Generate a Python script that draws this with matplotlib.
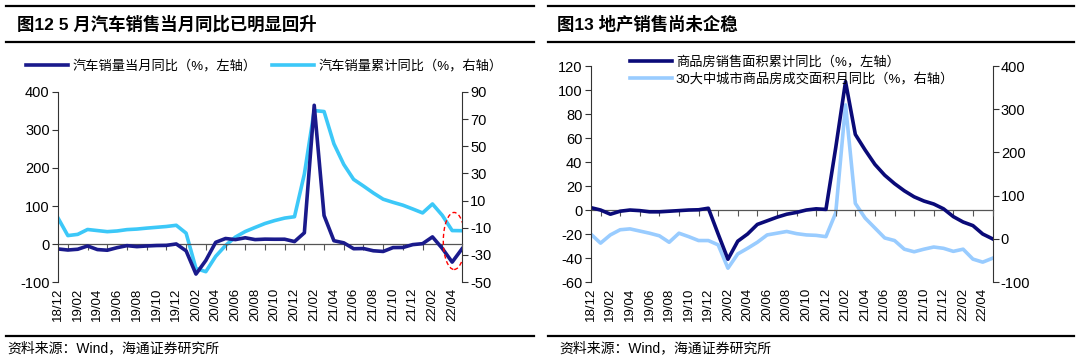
import numpy as np
import matplotlib
matplotlib.use("Agg")
import matplotlib.pyplot as plt
from matplotlib.patches import Ellipse

plt.rcParams['font.family'] = ['Liberation Sans', 'Noto Sans CJK SC']
plt.rcParams['axes.unicode_minus'] = False

# months 2018/12 .. 2022/05
n_months = 42
tick_labels = ['18/12', '19/02', '19/04', '19/06', '19/08', '19/10', '19/12',
               '20/02', '20/04', '20/06', '20/08', '20/10', '20/12',
               '21/02', '21/04', '21/06', '21/08', '21/10', '21/12',
               '22/02', '22/04']

# 汽车销量当月同比 (左轴)
car_month = [-13.0, -15.8, -13.8, -5.2, -14.6, -16.4, -9.6, -4.3, -6.9, -5.2, -4.0,
             -3.6, 0.1, -18.0, -79.1, -43.3, 4.4, 14.5, 11.6, 16.4, 11.6, 12.8,
             12.5, 12.6, 6.4, 29.5, 365.0, 74.9, 8.6, 3.1, -12.4, -11.9, -17.8,
             -19.6, -9.4, -9.1, -1.6, 0.9, 18.7, -11.7, -47.6, -12.6]
# 汽车销量累计同比 (右轴)
car_cum = [-2.8, -15.8, -14.9, -11.3, -12.1, -12.9, -12.4, -11.4, -11.0, -10.3, -9.7,
           -9.1, -8.2, -14.0, -40.0, -42.4, -31.1, -23.1, -16.9, -12.8, -9.8, -6.9,
           -4.7, -2.9, -1.9, 29.5, 76.3, 75.6, 51.8, 36.6, 25.6, 20.7, 15.6, 11.0,
           8.7, 6.6, 3.8, 0.9, 7.5, -0.9, -12.1, -12.2]

# 商品房销售面积累计同比 (左轴)
estate_cum = [2.0, 0.0, -3.5, -1.0, 0.0, -0.5, -1.5, -1.5, -1.0, -0.5, 0.0, 0.2, 1.5,
              -20.0, -41.0, -26.0, -20.0, -12.0, -9.0, -6.0, -3.5, -2.0, 0.0, 1.0,
              0.5, 52.0, 107.0, 63.0, 50.0, 38.0, 29.0, 22.0, 16.0, 11.0, 7.5, 5.0,
              1.0, -5.5, -10.0, -13.0, -20.0, -24.0]
# 30大中城市商品房成交面积月同比 (右轴)
city30 = [11, -10, 9, 21, 23, 18, 13, 7, -8, 13, 5, -4, -4, -14, -68, -35, -22, -8,
          9, 13, 17, 12, 9, 8, 5, 60, 310, 82, 48, 25, 2, -4, -24, -30, -24, -19,
          -22, -29, -24, -47, -54, -45]

x = np.arange(n_months)
tick_pos = np.arange(0, n_months, 2)

fig = plt.figure(figsize=(10.8, 3.63), dpi=100)

navy_l = '#1a1a8c'
cyan = '#3cc8f8'
navy_r = '#0a0a78'
pale = '#99ccff'


def style_axes(ax, ax2, zero_frac):
    for a in (ax, ax2):
        a.spines['top'].set_visible(False)
        a.spines['bottom'].set_visible(False)
        a.spines['left'].set_color('#333333')
        a.spines['right'].set_color('#333333')
        a.tick_params(axis='y', labelsize=10.5, length=4, color='#333333', pad=2)
    ax.spines['right'].set_visible(False)
    ax2.spines['left'].set_visible(False)
    ax.set_xlim(0, n_months - 1)
    ax.set_xticks(tick_pos)
    ax.set_xticklabels(tick_labels, rotation=90, fontsize=9.5)
    ax.tick_params(axis='x', length=0, pad=4)
    # zero line with small category ticks
    zx = ax.secondary_xaxis(zero_frac)
    zx.set_xticks(np.arange(1, n_months, 2))
    zx.tick_params(axis='x', length=4, color='#555555', labelbottom=False,
                   labeltop=False, direction='out')
    zx.spines['bottom'].set_color('#555555')
    zx.spines['bottom'].set_linewidth(0.9)
    zx.spines['top'].set_visible(False)
    ax.set_zorder(ax2.get_zorder() + 1)
    ax.patch.set_visible(False)


# ---------------- left chart ----------------
ax = fig.add_axes([0.0537, 0.2231, 0.3741, 0.5235])
ax2 = ax.twinx()
l1, = ax.plot(x, car_month, color=navy_l, lw=2.6, solid_joinstyle='round',
              label='汽车销量当月同比（%，左轴）')
l2, = ax2.plot(x, car_cum, color=cyan, lw=2.6, solid_joinstyle='round',
               label='汽车销量累计同比（%，右轴）')
ax.set_ylim(-100, 400)
ax.set_yticks(np.arange(-100, 401, 100))
ax2.set_ylim(-50, 90)
ax2.set_yticks(np.arange(-50, 91, 20))
style_axes(ax, ax2, 0.2)
ax.add_patch(Ellipse((40.2, 8), 2.2, 150, fill=False, edgecolor='red',
                     ls=(0, (3, 2)), lw=1.0, zorder=5))
ax.legend(handles=[l1, l2], loc='center left', bbox_to_anchor=(0.018, 0.818),
          bbox_transform=fig.transFigure, ncol=2, frameon=False, fontsize=9.5,
          handlelength=3.2, handletextpad=0.3, columnspacing=1.2, borderpad=0)

# ---------------- right chart ----------------
bx = fig.add_axes([0.547, 0.2231, 0.372, 0.595])
bx2 = bx.twinx()
m1, = bx.plot(x, estate_cum, color=navy_r, lw=2.6, solid_joinstyle='round',
              label='商品房销售面积累计同比（%，左轴）')
m2, = bx2.plot(x, city30, color=pale, lw=2.6, solid_joinstyle='round',
               label='30大中城市商品房成交面积月同比（%，右轴）')
bx.set_ylim(-60, 120)
bx.set_yticks(np.arange(-60, 121, 20))
bx2.set_ylim(-100, 400)
bx2.set_yticks(np.arange(-100, 401, 100))
style_axes(bx, bx2, 1 / 3)
bx.legend(handles=[m1, m2], loc='upper left', bbox_to_anchor=(0.577, 0.865),
          bbox_transform=fig.transFigure, ncol=1, frameon=False, fontsize=9.5,
          handlelength=3.2, handletextpad=0.3, labelspacing=0.35, borderpad=0)

# ---------------- titles, rules, sources ----------------
for x0, x1 in [(0.006, 0.494), (0.507, 0.994)]:
    for yy in (0.983, 0.884):
        fig.add_artist(plt.Line2D([x0, x1], [yy, yy], color='black', lw=1.6,
                                  transform=fig.transFigure))
    fig.add_artist(plt.Line2D([x0, x1], [0.074, 0.074], color='black', lw=1.6,
                              transform=fig.transFigure))

fig.text(0.016, 0.933, '图12 5 月汽车销售当月同比已明显回升', fontsize=12.5,
         fontweight='bold', va='center', ha='left')
fig.text(0.516, 0.933, '图13 地产销售尚未企稳', fontsize=12.5,
         fontweight='bold', va='center', ha='left')
fig.text(0.007, 0.04, '资料来源：Wind，海通证券研究所', fontsize=10, va='center')
fig.text(0.518, 0.04, '资料来源：Wind，海通证券研究所', fontsize=10, va='center')

fig.savefig('out.png', dpi=100)
